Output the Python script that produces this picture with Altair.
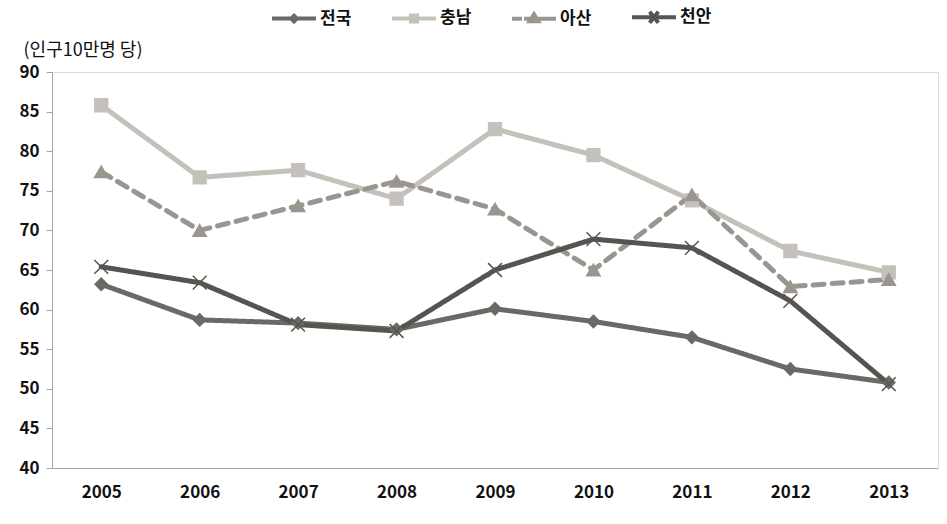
import altair as alt
import pandas as pd

years = ["2005", "2006", "2007", "2008", "2009", "2010", "2011", "2012", "2013"]
series_names = ["전국", "충남", "아산", "천안"]
v_national = [63.2, 58.7, 58.3, 57.5, 60.1, 58.5, 56.5, 52.5, 50.8]
v_chungnam = [85.8, 76.7, 77.6, 74.0, 82.8, 79.5, 73.8, 67.4, 64.7]
v_asan = [77.4, 70.0, 73.1, 76.2, 72.7, 65.0, 74.5, 62.9, 63.8]
v_cheonan = [65.4, 63.4, 58.1, 57.3, 65.0, 68.9, 67.8, 61.1, 50.6]

colors = ["#6c6965", "#c4c1bb", "#9a968f", "#575450"]
dashes = [[1, 0], [1, 0], [11, 8], [1, 0]]
marker_shapes = ["diamond", "square", "triangle-up", "M-1,-1L1,1M1,-1L-1,1"]
marker_sizes = [150, 190, 170, 200]
marker_strokes = [1.5, 1.5, 1.5, 1.0]
legend_shapes = [
    "M-1,0H1M0,-0.13L0.13,0L0,0.13L-0.13,0Z",
    "M-1,0H1M-0.14,-0.14H0.14V0.14H-0.14Z",
    "M-1,0H-0.55M0.45,0H1M-0.45,0H0.45M-0.2,0.12L0,-0.2L0.2,0.12Z",
    "M-1,0H1M-0.2,-0.25L0.2,0.25M0.2,-0.25L-0.2,0.25",
]

rows = []
for name, vals in zip(series_names, [v_national, v_chungnam, v_asan, v_cheonan]):
    for y, v in zip(years, vals):
        rows.append({"year": y, "series": name, "value": v})
df = pd.DataFrame(rows)

FONT = "Noto Sans CJK KR"

x_enc = alt.X("year:O", scale=alt.Scale(type="point", padding=0.5),
              axis=alt.Axis(title=None, ticks=False, labelAngle=0, labelFontSize=17,
                            labelFontWeight="bold", labelPadding=16, domainColor="#a8a49f",
                            labelColor="#111111", labelFont=FONT))
y_enc = alt.Y("value:Q", scale=alt.Scale(domain=[40, 90], nice=False, zero=False),
              axis=alt.Axis(title="(인구10만명 당)", titleAngle=0, titleX=-29, titleY=-22,
                            titleAlign="left", titleBaseline="middle", titleFontSize=18,
                            titleFontWeight="normal", titleFont=FONT, titleColor="#111111",
                            values=list(range(40, 91, 5)), grid=False, tickSize=6,
                            tickColor="#a8a49f", domainColor="#a8a49f", labelFontSize=17,
                            labelFontWeight="bold", labelPadding=7, labelColor="#111111",
                            labelFont=FONT))

lines = alt.Chart(df).mark_line(strokeWidth=5, strokeCap="round", strokeJoin="round").encode(
    x=x_enc, y=y_enc,
    color=alt.Color("series:N", scale=alt.Scale(domain=series_names, range=colors), legend=None),
    strokeDash=alt.StrokeDash("series:N", scale=alt.Scale(domain=series_names, range=dashes), legend=None),
)

points = alt.Chart(df).mark_point(filled=True, opacity=1).encode(
    x=x_enc, y=y_enc,
    fill=alt.Fill("series:N", scale=alt.Scale(domain=series_names, range=colors), legend=None),
    stroke=alt.Stroke("series:N", scale=alt.Scale(domain=series_names, range=colors), legend=None),
    shape=alt.Shape("series:N", scale=alt.Scale(domain=series_names, range=marker_shapes), legend=None),
    size=alt.Size("series:N", scale=alt.Scale(domain=series_names, range=marker_sizes), legend=None),
    strokeWidth=alt.StrokeWidth("series:N", scale=alt.Scale(domain=series_names, range=marker_strokes), legend=None),
)

legend_layer = alt.Chart(df).transform_filter("datum.value < 0").mark_point(
    filled=True, size=1936, strokeWidth=4, opacity=1).encode(
    x=x_enc, y=y_enc,
    fill=alt.Fill("series:N", scale=alt.Scale(domain=series_names, range=colors), legend=alt.Legend(title=None)),
    stroke=alt.Stroke("series:N", scale=alt.Scale(domain=series_names, range=colors), legend=alt.Legend(title=None)),
    shape=alt.Shape("series:N", scale=alt.Scale(domain=series_names, range=legend_shapes),
                    legend=alt.Legend(title=None, orient="none", direction="horizontal",
                                      legendX=218, legendY=-79, symbolSize=1936,
                                      symbolStrokeWidth=4, labelFontSize=17, labelFontWeight="bold",
                                      labelFont=FONT, labelColor="#111111", labelOffset=2,
                                      columnPadding=32, symbolOpacity=1)),
)

chart = alt.layer(lines, points, legend_layer).resolve_scale(
    shape="independent", fill="independent", stroke="independent", size="independent",
    strokeWidth="independent"
).properties(
    width=886, height=396,
    autosize=alt.AutoSizeParams(type="none"),
    padding={"left": 52, "top": 72, "right": 9, "bottom": 56},
    background="#ffffff",
).configure_view(fill="#f2f3f5", stroke=None).configure(font=FONT)

chart.save("out.html", embed_options={"renderer": "svg", "actions": False})
